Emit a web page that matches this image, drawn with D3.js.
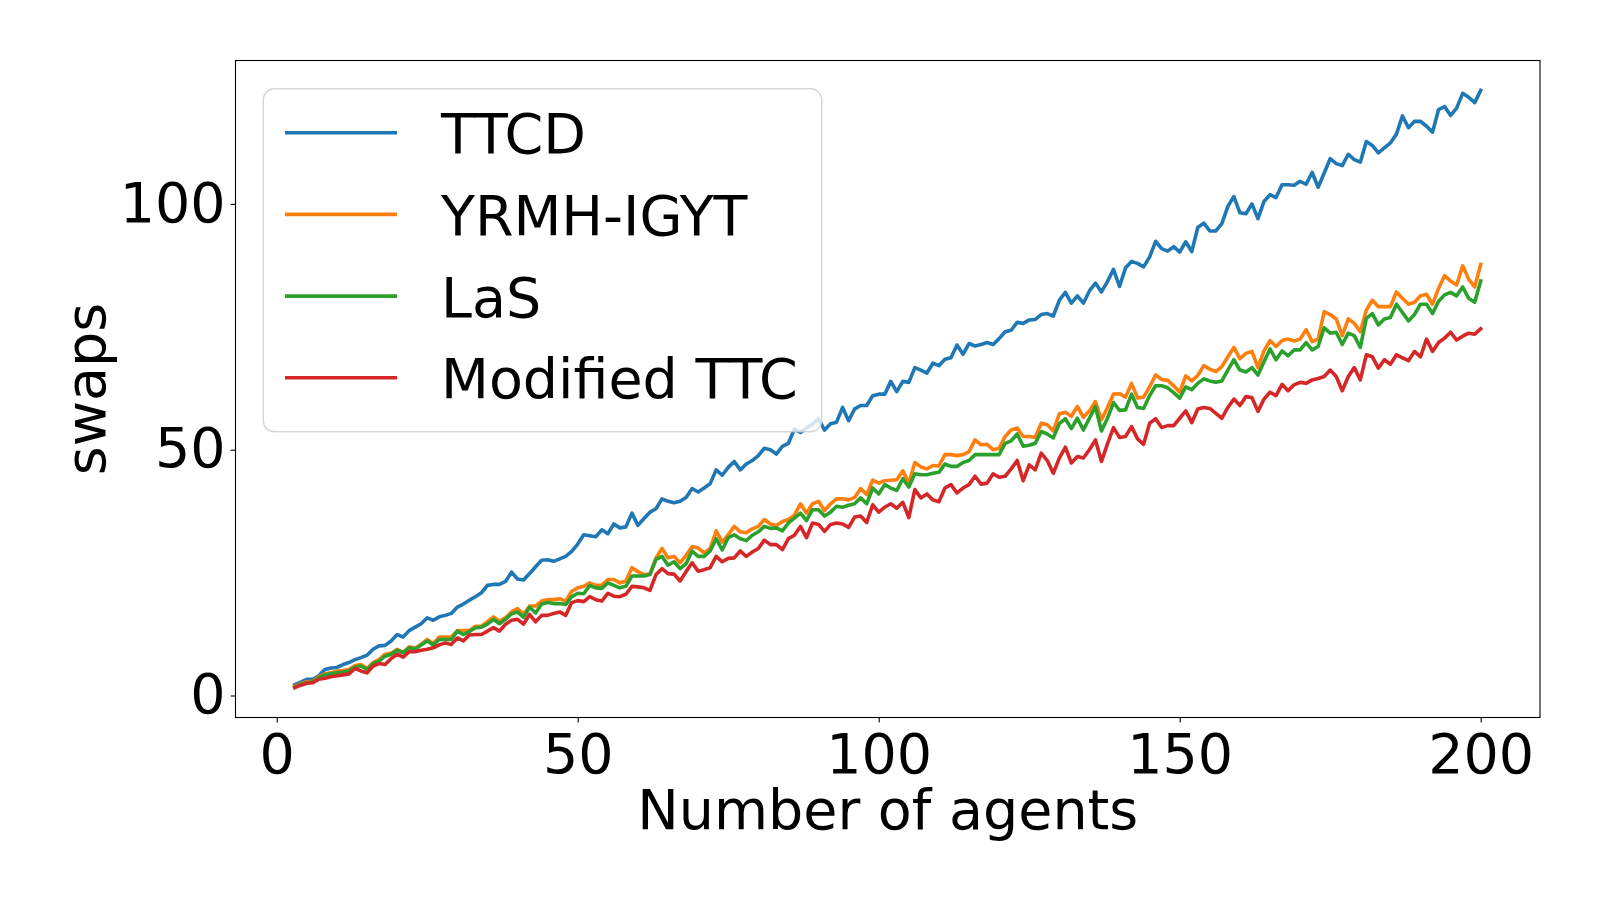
<!DOCTYPE html>
<html>
<head>
<meta charset="utf-8">
<script src="https://cdn.jsdelivr.net/npm/d3@7"></script>
<style>
body { margin: 0; background: #fff; }
svg { display: block; font-family: "DejaVu Sans", sans-serif; }
</style>
</head>
<body>
<svg width="1600" height="900"></svg>
<script>

// number of agents runs 3..200, one point each
var agents = d3.range(3, 201);

var ttcd = [
    2.2, 2.7, 3.3, 3.3, 4.0, 5.3, 5.6, 5.7, 6.3, 6.7,
    7.3, 7.7, 8.2, 9.4, 10.1, 10.2, 11.1, 12.4, 11.9, 13.2,
    13.9, 14.6, 15.8, 15.3, 16.0, 16.3, 16.7, 18.0, 18.6, 19.4,
    20.1, 20.9, 22.4, 22.6, 22.6, 23.2, 25.1, 23.7, 23.5, 24.8,
    26.2, 27.5, 27.6, 27.3, 27.8, 28.3, 29.3, 30.8, 32.7, 32.5,
    32.3, 33.7, 32.9, 34.9, 34.1, 34.3, 37.1, 34.6, 36.0, 37.3,
    38.0, 40.0, 39.5, 39.2, 39.5, 40.3, 42.1, 41.4, 42.2, 43.1,
    45.9, 44.8, 46.4, 47.6, 45.9, 47.1, 47.8, 48.8, 50.3, 50.0,
    49.1, 50.7, 51.3, 54.2, 53.5, 54.4, 55.2, 56.3, 54.0, 55.3,
    55.6, 58.6, 55.9, 58.3, 59.0, 59.0, 61.0, 61.3, 61.3, 63.9,
    61.8, 63.9, 63.7, 66.7, 66.2, 65.6, 67.6, 67.1, 68.4, 68.7,
    71.3, 69.4, 71.6, 71.1, 71.4, 71.8, 71.4, 72.6, 74.0, 74.3,
    75.9, 75.7, 76.4, 76.5, 77.5, 77.7, 77.2, 80.4, 82.0, 79.8,
    81.3, 79.8, 82.3, 83.9, 82.1, 84.2, 86.7, 83.2, 87.0, 88.3,
    87.9, 87.2, 89.2, 92.4, 90.9, 90.4, 91.3, 90.2, 92.3, 90.3,
    95.2, 96.1, 94.5, 94.5, 96.0, 99.5, 101.5, 98.2, 98.0, 100.0,
    97.0, 100.5, 101.9, 101.3, 103.9, 103.9, 103.8, 104.6, 104.0, 106.4,
    103.4, 106.3, 109.2, 108.2, 107.8, 110.1, 109.0, 108.5, 112.7, 111.9,
    110.4, 111.4, 112.4, 114.2, 117.9, 115.5, 116.8, 116.8, 115.8, 114.6,
    119.2, 119.8, 118.0, 119.5, 122.5, 121.7, 120.6, 123.1
];

var yrmh = [
    1.9, 2.4, 2.8, 2.9, 3.8, 4.4, 4.6, 5.0, 5.1, 5.3,
    6.1, 6.3, 5.5, 6.7, 7.3, 8.4, 8.6, 9.4, 8.8, 9.9,
    9.6, 10.4, 11.4, 10.6, 11.9, 11.9, 11.9, 13.2, 13.2, 13.2,
    14.1, 14.1, 15.0, 16.0, 15.1, 15.8, 17.0, 17.7, 16.5, 18.2,
    18.2, 19.2, 19.5, 19.5, 19.7, 19.2, 21.2, 21.9, 22.2, 22.9,
    22.4, 22.4, 23.6, 23.6, 22.9, 23.3, 26.0, 25.2, 24.6, 24.7,
    28.0, 29.9, 28.0, 28.3, 27.0, 28.5, 30.3, 30.0, 29.0, 29.9,
    33.5, 31.2, 32.7, 34.4, 33.3, 33.1, 33.9, 34.4, 35.8, 34.9,
    34.6, 35.4, 35.8, 36.7, 39.0, 37.1, 39.0, 39.5, 37.6, 39.0,
    40.0, 40.0, 39.8, 40.3, 42.1, 40.9, 43.8, 43.2, 43.7, 43.8,
    43.9, 45.7, 43.2, 47.4, 46.5, 46.1, 46.8, 46.7, 49.0, 49.0,
    48.8, 49.0, 49.6, 52.0, 51.0, 51.1, 50.0, 50.3, 52.7, 54.0,
    54.4, 52.7, 52.7, 52.5, 55.4, 55.1, 53.8, 57.3, 57.6, 56.8,
    58.8, 56.6, 57.9, 59.8, 56.1, 58.6, 61.3, 61.4, 60.7, 63.5,
    60.5, 60.7, 62.8, 65.2, 64.3, 64.1, 63.0, 61.7, 65.0, 64.0,
    65.1, 67.1, 66.4, 65.9, 66.9, 68.9, 70.8, 68.5, 69.6, 70.0,
    66.7, 70.1, 72.2, 71.0, 72.2, 72.5, 72.1, 72.5, 74.4, 72.0,
    72.5, 78.1, 77.5, 76.6, 73.2, 76.6, 75.7, 74.0, 78.4, 80.4,
    79.1, 79.1, 79.1, 82.1, 80.8, 79.6, 80.0, 81.3, 81.6, 79.6,
    82.8, 85.4, 84.3, 83.5, 87.4, 84.7, 83.1, 87.7
];

var las = [
    1.7, 2.3, 2.6, 2.8, 3.6, 4.2, 4.4, 4.6, 4.8, 5.0,
    5.8, 6.0, 5.3, 6.5, 7.0, 8.0, 8.4, 9.2, 8.7, 9.7,
    9.4, 10.3, 11.1, 10.3, 11.4, 11.4, 11.4, 13.1, 12.4, 13.0,
    13.8, 13.9, 14.5, 15.5, 14.6, 15.5, 16.6, 17.0, 15.9, 18.0,
    16.8, 18.6, 18.9, 18.7, 18.7, 18.5, 20.1, 20.8, 20.7, 22.4,
    21.9, 21.8, 22.9, 22.4, 21.9, 22.2, 24.3, 24.3, 24.3, 24.6,
    27.7, 28.3, 26.5, 27.2, 25.8, 26.8, 29.4, 28.3, 28.3, 29.4,
    31.9, 29.6, 32.1, 32.7, 31.9, 31.5, 32.6, 33.3, 34.4, 34.0,
    34.1, 33.5, 35.1, 36.1, 37.1, 35.6, 37.8, 37.8, 36.5, 37.3,
    38.5, 38.3, 38.7, 39.0, 40.2, 39.0, 42.2, 41.0, 42.9, 42.2,
    41.7, 44.1, 42.4, 45.1, 44.9, 44.9, 45.2, 45.4, 47.1, 46.6,
    46.6, 47.4, 47.8, 49.0, 49.0, 49.0, 49.0, 49.0, 51.3, 51.8,
    53.2, 50.7, 50.9, 51.3, 53.7, 53.2, 52.4, 55.3, 56.3, 54.3,
    56.4, 54.0, 56.4, 58.8, 53.8, 56.4, 59.6, 58.0, 58.1, 61.3,
    58.6, 58.4, 61.0, 63.0, 63.0, 62.6, 61.6, 60.5, 62.8, 62.2,
    63.5, 64.4, 64.0, 63.7, 64.0, 66.2, 68.3, 66.2, 65.8, 66.7,
    65.2, 67.9, 70.5, 68.3, 70.1, 69.1, 70.3, 70.3, 71.8, 70.3,
    71.0, 74.8, 73.7, 73.9, 71.4, 73.7, 73.2, 70.8, 76.7, 77.7,
    75.4, 76.6, 76.9, 79.6, 77.9, 76.2, 77.5, 79.6, 79.6, 77.7,
    80.2, 81.5, 82.0, 81.3, 83.1, 80.8, 80.0, 84.3
];

var modTtc = [
    1.6, 2.1, 2.5, 2.6, 3.3, 3.5, 3.8, 4.0, 4.2, 4.4,
    5.5, 5.0, 4.6, 6.0, 6.5, 6.3, 7.5, 8.4, 7.8, 8.9,
    8.9, 9.2, 9.4, 9.7, 10.3, 10.7, 10.4, 11.7, 11.1, 12.3,
    12.4, 12.4, 13.1, 13.8, 13.1, 14.5, 15.3, 15.5, 14.5, 16.5,
    15.0, 16.3, 16.3, 16.7, 17.0, 16.3, 18.9, 19.3, 19.1, 20.1,
    19.5, 19.2, 20.8, 20.2, 20.1, 20.6, 22.2, 22.1, 21.9, 21.4,
    24.6, 25.8, 24.8, 24.7, 23.3, 25.2, 27.0, 25.3, 25.6, 26.0,
    28.3, 27.2, 27.9, 28.0, 29.4, 28.3, 29.2, 29.9, 31.6, 30.7,
    30.7, 29.7, 31.9, 32.6, 34.4, 32.1, 35.1, 34.8, 33.4, 34.8,
    35.1, 34.9, 34.2, 36.3, 36.5, 35.2, 38.8, 37.3, 38.3, 39.0,
    38.1, 39.3, 36.2, 41.9, 40.2, 41.0, 39.8, 39.4, 42.2, 42.9,
    41.2, 42.2, 42.9, 44.6, 43.0, 43.2, 45.1, 44.4, 44.6, 46.1,
    47.8, 43.7, 46.9, 45.9, 49.3, 47.8, 45.2, 48.3, 50.5, 47.3,
    48.6, 48.3, 50.0, 52.0, 47.6, 51.2, 54.5, 52.5, 52.7, 54.7,
    52.2, 51.1, 55.4, 56.3, 54.5, 54.9, 54.9, 56.4, 57.9, 55.5,
    58.3, 58.6, 58.4, 57.4, 56.4, 58.6, 60.3, 59.0, 60.8, 60.6,
    57.8, 60.3, 61.7, 61.0, 63.3, 62.0, 63.2, 63.7, 63.5, 64.2,
    64.5, 64.9, 66.2, 64.9, 62.0, 64.9, 66.7, 64.2, 69.3, 68.9,
    66.6, 68.3, 67.4, 69.3, 68.7, 68.1, 70.0, 68.9, 72.5, 70.0,
    71.8, 72.7, 73.9, 72.3, 73.1, 73.7, 73.5, 74.6
];

var seriesNames = ['TTCD', 'YRMH-IGYT', 'LaS', 'Modified TTC'];
var seriesValues = [ttcd, yrmh, las, modTtc];
var colors = ['#1f77b4', '#ff7f0e', '#2ca02c', '#d62728'];

var xTicks = [0, 50, 100, 150, 200];
var yTicks = [0, 50, 100];

// plot box (window.top is reserved, so own names here)
var plotLeft = 235.5, plotRight = 1540, plotTop = 60.5, plotBottom = 717.5;
var fontPx = 55.5;

var svg = d3.select('svg');

// matplotlib-like 5% margins on both axes
var xExt = d3.extent(agents);
var xPad = (xExt[1] - xExt[0]) * 0.05;
var allVals = d3.merge(seriesValues);
var yExt = d3.extent(allVals);
var yPad = (yExt[1] - yExt[0]) * 0.05;

var scaleX = d3.scaleLinear().domain([xExt[0] - xPad, xExt[1] + xPad]).range([plotLeft, plotRight]);
var scaleY = d3.scaleLinear().domain([yExt[0] - yPad, yExt[1] + yPad]).range([plotBottom, plotTop]);

var line = d3.line()
    .x(function(d){ return scaleX(d[0]); })
    .y(function(d){ return scaleY(d[1]); });

svg.append('g').selectAll('path')
    .data(seriesValues)
    .enter()
    .append('path')
    .attr('d', function(vals){
        return line(vals.map(function(v, i){ return [agents[i], v]; }));
    })
    .attr('fill', 'none')
    .attr('stroke', function(d, i){ return colors[i]; })
    .attr('stroke-width', 3.6)
    .attr('stroke-linejoin', 'round')
    .attr('stroke-linecap', 'square');

// axes
var xAxis = svg.append('g')
    .attr('transform', 'translate(0,' + plotBottom + ')')
    .call(d3.axisBottom(scaleX).tickValues(xTicks).tickSize(4.9).tickSizeOuter(0).tickPadding(11));

var yAxis = svg.append('g')
    .attr('transform', 'translate(' + plotLeft + ',0)')
    .call(d3.axisLeft(scaleY).tickValues(yTicks).tickSize(4.9).tickSizeOuter(0).tickPadding(5));

[xAxis, yAxis].forEach(function(ax){
    ax.select('.domain').remove();
    ax.selectAll('line').attr('stroke', '#000').attr('stroke-width', 1.1);
    ax.selectAll('text')
        .attr('fill', '#000')
        .style('font-family', '"DejaVu Sans", sans-serif')
        .style('font-size', fontPx + 'px');
});
yAxis.selectAll('text').attr('dy', '0.31em');

// spines
svg.append('rect')
    .attr('x', plotLeft)
    .attr('y', plotTop)
    .attr('width', plotRight - plotLeft)
    .attr('height', plotBottom - plotTop)
    .attr('fill', 'none')
    .attr('stroke', '#000')
    .attr('stroke-width', 1.1);

// axis labels
svg.append('text')
    .text('Number of agents')
    .attr('x', (plotLeft + plotRight) / 2)
    .attr('y', 829)
    .attr('text-anchor', 'middle')
    .style('font-size', fontPx + 'px');

svg.append('text')
    .text('swaps')
    .attr('transform', 'translate(104.5,' + ((plotTop + plotBottom) / 2) + ')rotate(-90)')
    .attr('text-anchor', 'middle')
    .style('font-size', fontPx + 'px');

// legend
var legend = svg.append('g');

legend.append('rect')
    .attr('x', 263.3)
    .attr('y', 88.8)
    .attr('width', 558.4)
    .attr('height', 343)
    .attr('rx', 11)
    .attr('fill', 'rgba(255,255,255,0.8)')
    .attr('stroke', 'rgba(204,204,204,0.8)')
    .attr('stroke-width', 1.4);

seriesNames.forEach(function(name, i){
    var y = 132.7 + i * 81.7;
    legend.append('line')
        .attr('x1', 285)
        .attr('x2', 397)
        .attr('y1', y)
        .attr('y2', y)
        .attr('stroke', colors[i])
        .attr('stroke-width', 3.6);
    legend.append('text')
        .text(name)
        .attr('x', 441)
        .attr('y', y + 20.5)
        .style('font-size', fontPx + 'px');
});

</script>
</body>
</html>
